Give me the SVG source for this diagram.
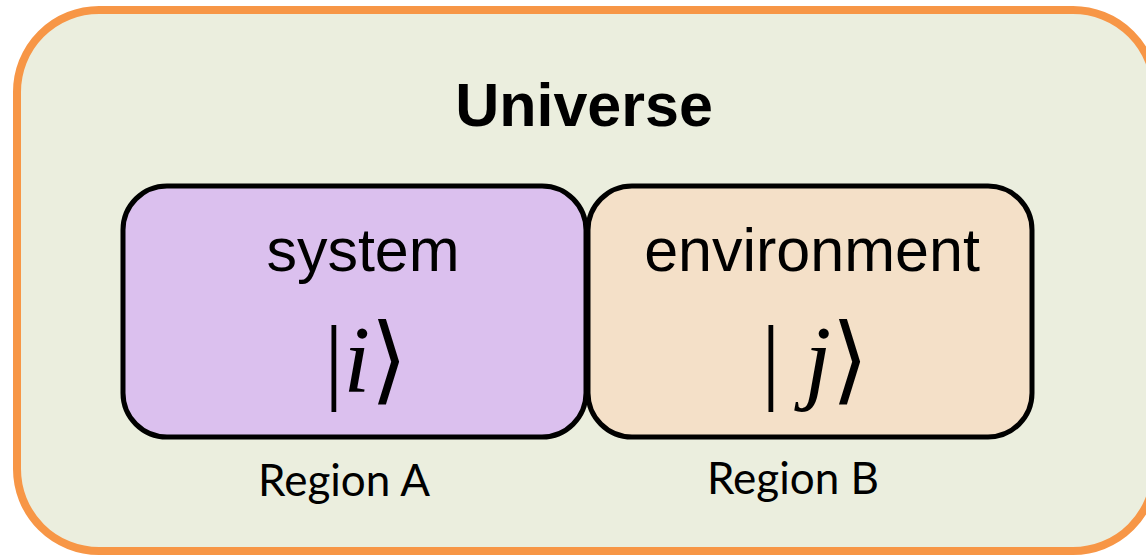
<svg xmlns="http://www.w3.org/2000/svg" width="1146" height="555" viewBox="0 0 1146 555">
<style>
.lbl{font-family:"Liberation Sans",Arial,sans-serif;fill:#000}
.ket{font-family:"Liberation Serif","DejaVu Serif",serif;fill:#000}
.reg{font-family:Lato,"Open Sans",sans-serif;font-size:44px;fill:#000;text-anchor:middle}
.box{stroke:#000;stroke-width:5}
</style>
<g id="universe">
<rect x="17" y="10" width="1138" height="541" rx="82" ry="82" fill="#EBEEDE" stroke="#F79646" stroke-width="8"/>
<text class="lbl" x="584" y="126" font-size="61" font-weight="bold" text-anchor="middle">Universe</text>
</g>
<g id="system">
<rect class="box" x="123" y="186" width="463" height="251" rx="44" ry="44" fill="#DBC0EE"/>
<text class="lbl" x="363" y="271" font-size="61" text-anchor="middle">system</text>
<text class="ket" x="366" y="392" font-size="96" text-anchor="middle">|<tspan font-style="italic">i</tspan>⟩</text>
</g>
<g id="environment">
<rect class="box" x="588" y="186" width="444" height="251" rx="44" ry="44" fill="#F4E0C8"/>
<text class="lbl" x="812" y="271" font-size="61" text-anchor="middle">environment</text>
<text class="ket" x="815" y="392" font-size="96" text-anchor="middle">| <tspan font-style="italic">j</tspan>⟩</text>
</g>
<g id="labels">
<text class="reg" x="344" y="496">Region A</text>
<text class="reg" x="793" y="494">Region B</text>
</g>
<g id="connectors"/>
</svg>
